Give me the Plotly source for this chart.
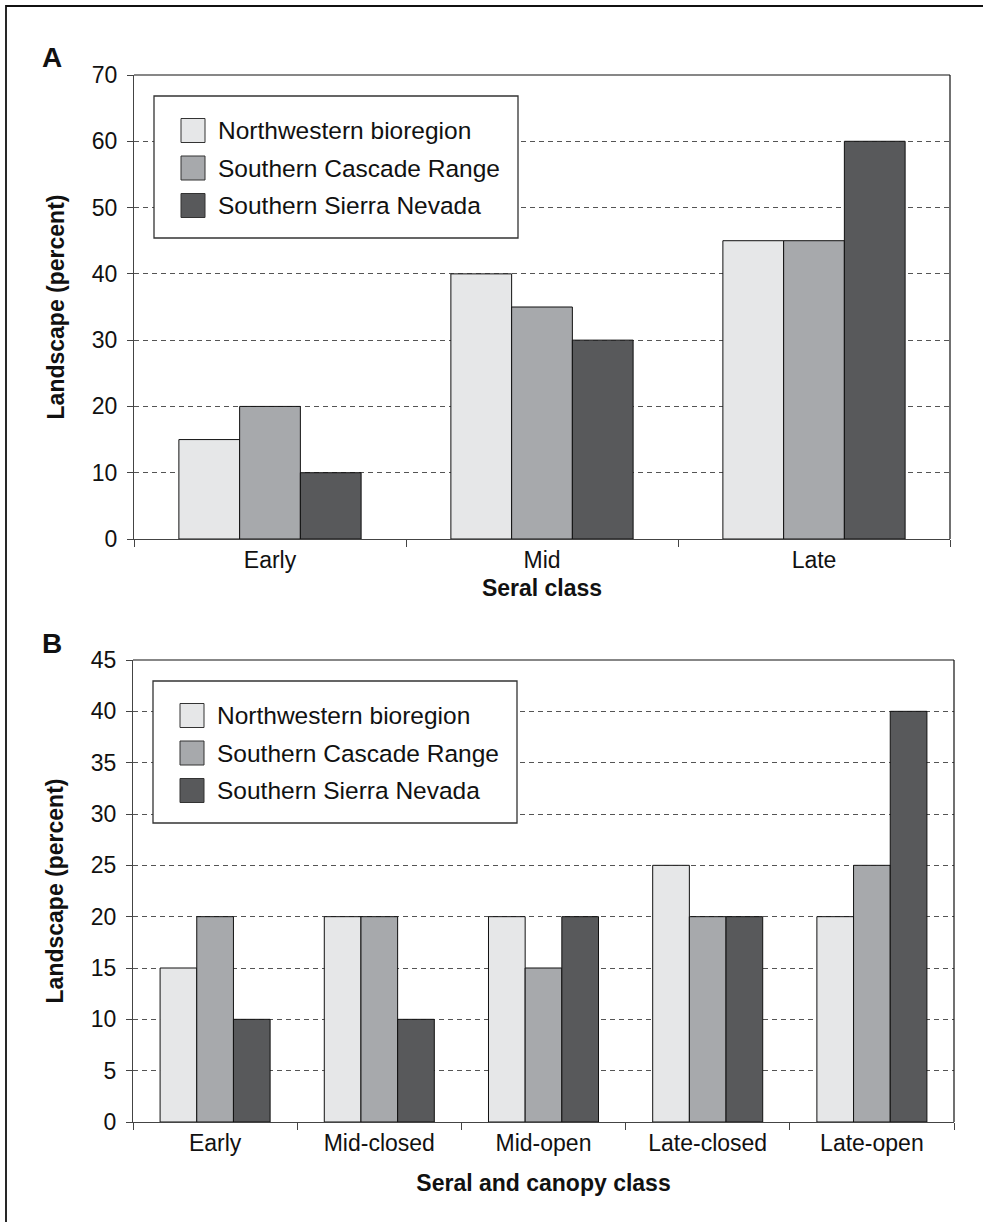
import plotly.graph_objects as go

# ---------------- data ----------------
series_names = ["Northwestern bioregion", "Southern Cascade Range", "Southern Sierra Nevada"]
series_colors = ["#e6e7e8", "#a7a9ac", "#58595b"]

cats_a = ["Early", "Mid", "Late"]
nw_a = [15, 40, 45]
sc_a = [20, 35, 45]
ss_a = [10, 30, 60]

cats_b = ["Early", "Mid-closed", "Mid-open", "Late-closed", "Late-open"]
nw_b = [15, 20, 20, 25, 20]
sc_b = [20, 20, 15, 20, 25]
ss_b = [10, 10, 20, 20, 40]

y_ticks_a = [0, 10, 20, 30, 40, 50, 60, 70]
y_ticks_b = [0, 5, 10, 15, 20, 25, 30, 35, 40, 45]

# ---------------- layout helpers ----------------
W, H = 983, 1222
FONT = "Liberation Sans, Arial, Helvetica, sans-serif"


def px(x):
    return x / W


def py(y):
    return 1 - y / H


fig = go.Figure()

for vals, name, col in zip([nw_a, sc_a, ss_a], series_names, series_colors):
    fig.add_trace(go.Bar(x=cats_a, y=vals, name=name, marker=dict(color=col, line=dict(color="#111111", width=1)),
                         xaxis="x", yaxis="y", showlegend=False))
for vals, name, col in zip([nw_b, sc_b, ss_b], series_names, series_colors):
    fig.add_trace(go.Bar(x=cats_b, y=vals, name=name, marker=dict(color=col, line=dict(color="#111111", width=1)),
                         xaxis="x2", yaxis="y2", showlegend=False))

# panel pixel boxes (left, top, right, bottom)
box_a = (134, 75, 950, 539)
box_b = (133, 660, 954, 1122)

TICK_SIZE = 23
TITLE_SIZE = 23

xcommon = dict(type="category", tickson="boundaries", ticks="outside", ticklen=7, tickwidth=1,
               tickcolor="#444444", showline=True, linecolor="#444444", linewidth=1.3, mirror=False,
               showgrid=False, zeroline=False, automargin=False,
               tickfont=dict(family=FONT, size=TICK_SIZE, color="#111111"))
ycommon = dict(ticks="outside", ticklen=6, tickwidth=1, tickcolor="#444444", showline=True,
               linecolor="#444444", linewidth=1.3, showgrid=True, gridcolor="#555555", griddash="5px,4px",
               gridwidth=1, zeroline=False, automargin=False,
               tickfont=dict(family=FONT, size=TICK_SIZE, color="#111111"),
               ticklabelstandoff=5)

fig.update_layout(
    width=W, height=H,
    margin=dict(l=0, r=0, t=0, b=0),
    paper_bgcolor="white", plot_bgcolor="white",
    barmode="group", bargap=0.33, bargroupgap=0,
    xaxis=dict(xcommon, domain=[px(box_a[0]), px(box_a[2])], anchor="y",
               title=dict(text="<b>Seral class</b>", font=dict(family=FONT, size=TITLE_SIZE, color="#111111"), standoff=8)),
    yaxis=dict(ycommon, domain=[py(box_a[3]), py(box_a[1])], anchor="x", range=[0, 70],
               tickvals=y_ticks_a,
               title=dict(text="<b>Landscape (percent)</b>", font=dict(family=FONT, size=TITLE_SIZE, color="#111111"), standoff=20)),
    xaxis2=dict(xcommon, domain=[px(box_b[0]), px(box_b[2])], anchor="y2",
                title=dict(text="<b>Seral and canopy class</b>", font=dict(family=FONT, size=TITLE_SIZE, color="#111111"), standoff=20)),
    yaxis2=dict(ycommon, domain=[py(box_b[3]), py(box_b[1])], anchor="x2", range=[0, 45],
                tickvals=y_ticks_b,
                title=dict(text="<b>Landscape (percent)</b>", font=dict(family=FONT, size=TITLE_SIZE, color="#111111"), standoff=20)),
)

shapes = []
annotations = []

# top/right plot border lines
for (l, t, r, b) in [box_a, box_b]:
    shapes.append(dict(type="line", xref="paper", yref="paper", x0=px(l), x1=px(r), y0=py(t), y1=py(t),
                       line=dict(color="#111111", width=1.2), layer="above"))
    shapes.append(dict(type="line", xref="paper", yref="paper", x0=px(r), x1=px(r), y0=py(t), y1=py(b),
                       line=dict(color="#111111", width=1.2), layer="above"))

# manual legends (box + swatches + labels)
for (l, t, r, b) in [box_a, box_b]:
    lx0, lx1 = l + 20, l + 384
    ly0, ly1 = t + 21, t + 163
    shapes.append(dict(type="rect", xref="paper", yref="paper", x0=px(lx0), x1=px(lx1), y0=py(ly0), y1=py(ly1),
                       line=dict(color="#333333", width=1.3), fillcolor="white", layer="above"))
    for i, (name, col) in enumerate(zip(series_names, series_colors)):
        cy = t + 55.5 + i * 37.5
        shapes.append(dict(type="rect", xref="paper", yref="paper", x0=px(l + 47), x1=px(l + 71),
                           y0=py(cy - 12), y1=py(cy + 12),
                           line=dict(color="#333333", width=1), fillcolor=col, layer="above"))
        annotations.append(dict(xref="paper", yref="paper", x=px(l + 82), y=py(cy), xanchor="left", yanchor="middle",
                                text=name, showarrow=False, font=dict(family=FONT, size=24.5, color="#111111")))

# panel letters
annotations.append(dict(xref="paper", yref="paper", x=px(40), y=py(58), xanchor="left", yanchor="middle",
                        text="<b>A</b>", showarrow=False, font=dict(family=FONT, size=28, color="#111111")))
annotations.append(dict(xref="paper", yref="paper", x=px(40), y=py(643), xanchor="left", yanchor="middle",
                        text="<b>B</b>", showarrow=False, font=dict(family=FONT, size=28, color="#111111")))

# outer frame (top and left visible)
shapes.append(dict(type="rect", xref="paper", yref="paper", x0=px(6), x1=1.1, y0=py(6), y1=-0.1,
                   line=dict(color="#111111", width=1.8), fillcolor="rgba(0,0,0,0)", layer="above"))

fig.update_layout(shapes=shapes, annotations=annotations)

fig.write_html("out.html", config={"displayModeBar": False},
               post_script="document.body.style.margin='0';")
